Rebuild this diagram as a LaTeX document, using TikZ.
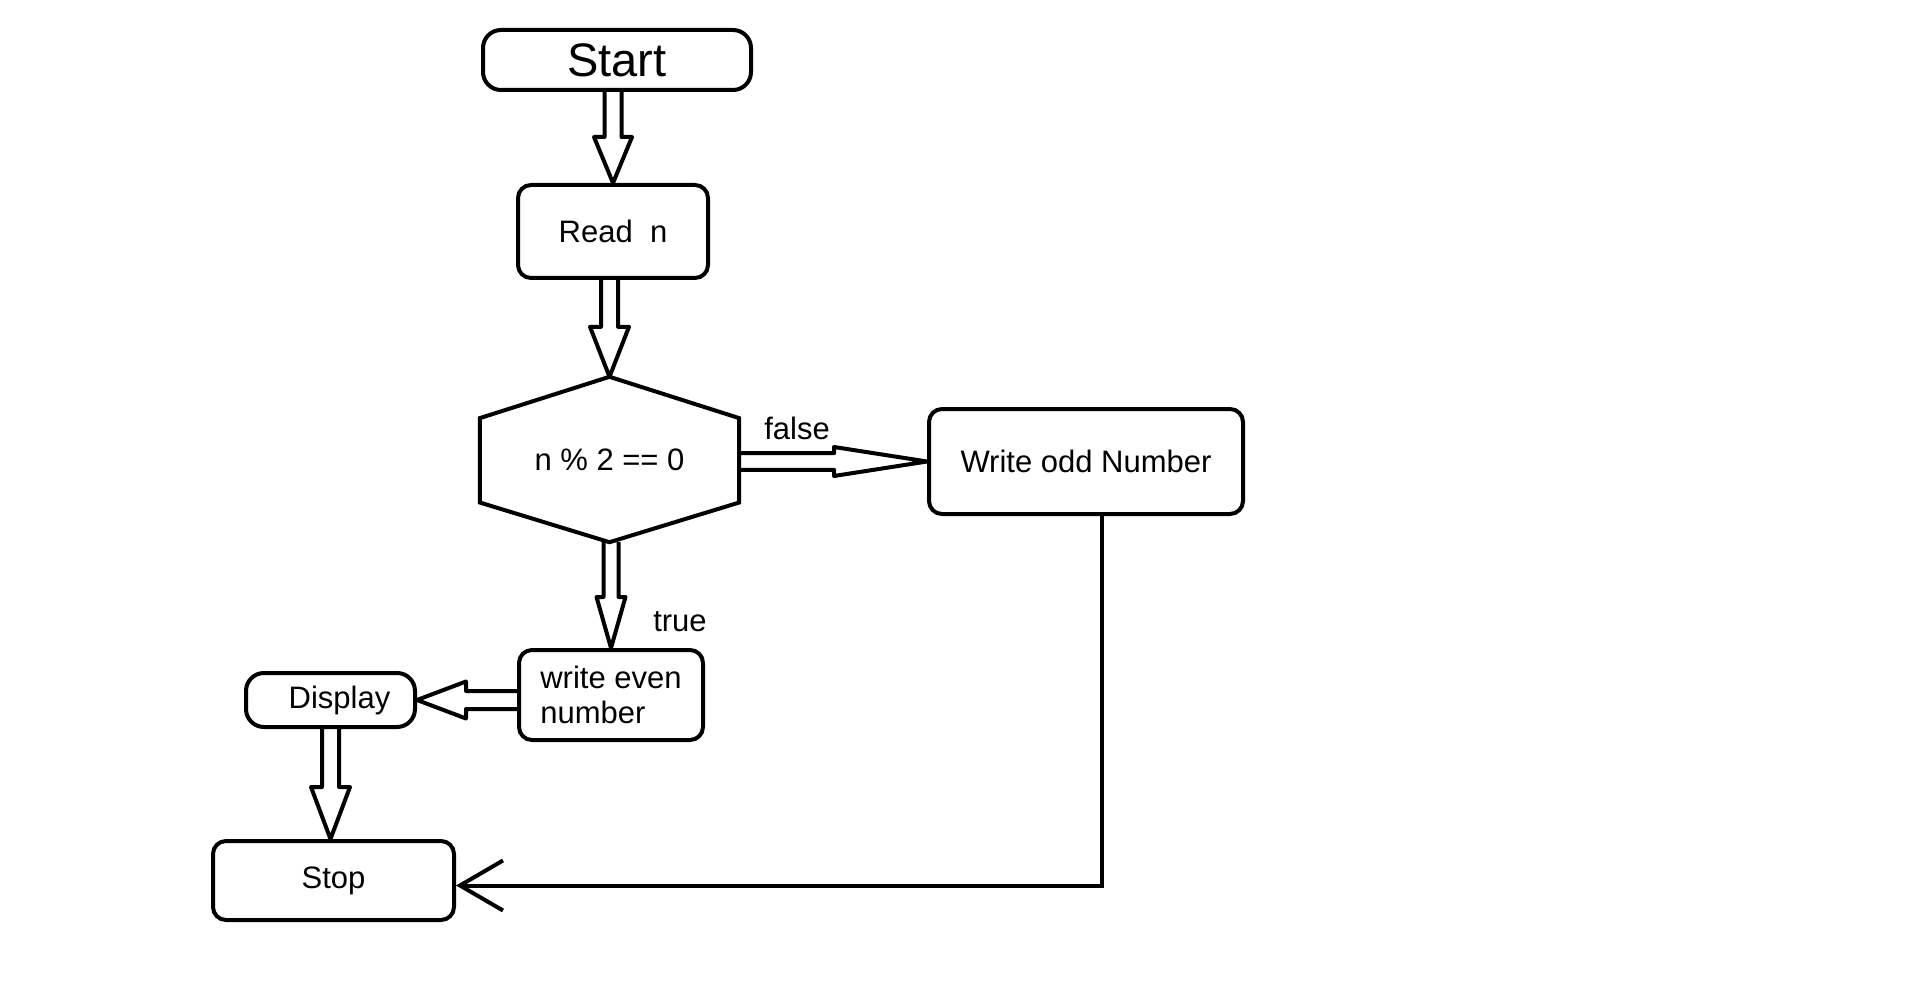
\documentclass[tikz,border=0pt]{standalone}
\usepackage{fontspec}
\setmainfont{Liberation Sans}
\usetikzlibrary{calc,arrows.meta}

\tikzset{
	box/.style={draw, rectangle, rounded corners=13pt, line width=4pt, inner sep=0pt, font=\fontsize{31pt}{35pt}\selectfont},
	terminal/.style={box, rounded corners=18pt},
	tag/.style={inner sep=0pt, font=\fontsize{31pt}{35pt}\selectfont},
	arrshaft/.store in=\arrshaft, arrhead/.store in=\arrhead, arrlen/.store in=\arrlen,
	arrshaft=8.5pt, arrhead=19pt, arrlen=46pt,
	blockarrow/.style={line width=4pt, line join=round, to path={
		($(\tikztostart)!\arrshaft!90:(\tikztotarget)$)
		-- ($($(\tikztotarget)!\arrlen!(\tikztostart)$)!\arrshaft!90:(\tikztotarget)$)
		-- ($($(\tikztotarget)!\arrlen!(\tikztostart)$)!\arrhead!90:(\tikztotarget)$)
		-- (\tikztotarget)
		-- ($($(\tikztotarget)!\arrlen!(\tikztostart)$)!\arrhead!-90:(\tikztotarget)$)
		-- ($($(\tikztotarget)!\arrlen!(\tikztostart)$)!\arrshaft!-90:(\tikztotarget)$)
		-- ($(\tikztostart)!\arrshaft!-90:(\tikztotarget)$)
	}}
}

\begin{document}
\begin{tikzpicture}[x=1pt, y=-1pt]
	\useasboundingbox (0,0) rectangle (1914,981);
	
	\node[terminal, minimum width=268pt, minimum height=60pt, font=\fontsize{47pt}{50pt}\selectfont] (start) at (617,60) {Start};
	\node[box, minimum width=190pt, minimum height=93pt] (read) at (613,231.5) {Read~~n};
	\node[tag, minimum width=259pt, minimum height=165pt] (cond) at (609.5,459.5) {n \% 2 == 0};
	\node[box, minimum width=314pt, minimum height=105pt] (odd) at (1086,461.5) {Write odd Number};
	\node[box, minimum width=184pt, minimum height=90pt, align=left] (even) at (611,695) {write even\\number};
	\node[terminal, minimum width=169pt, minimum height=54pt] (disp) at (330.5,700) {\hspace*{18pt}Display};
	\node[box, minimum width=241pt, minimum height=79pt] (stop) at (333.5,880.5) {Stop};
	
	\node[tag] (lfalse) at (797,428) {false};
	\node[tag] (ltrue) at (680,622) {true};
	
	%hexagon round the test
	\draw[line width=4pt, line join=miter] (cond.north)
		-- ($(cond.north east)!0.25!(cond.south east)$)
		-- ($(cond.north east)!0.76!(cond.south east)$)
		-- (cond.south)
		-- ($(cond.north west)!0.76!(cond.south west)$)
		-- ($(cond.north west)!0.25!(cond.south west)$)
		-- cycle;
	
	\draw[blockarrow] (start.south -| read.north) to (read.north);
	\draw[blockarrow, arrhead=19.5pt, arrlen=50pt] (read.south -| cond.north) to (cond.north);
	\draw[blockarrow, arrshaft=8.3pt, arrhead=14.5pt, arrlen=93pt] (cond.east |- odd.west) to (odd.west);
	\draw[blockarrow, arrshaft=7.5pt, arrhead=14.5pt, arrlen=51pt] (cond.south -| even.north) to (even.north);
	\draw[blockarrow, arrshaft=9pt, arrhead=18.5pt, arrlen=49pt] (even.west |- disp.east) to (disp.east);
	\draw[blockarrow, arrhead=19.5pt, arrlen=52pt] (disp.south) to (disp.south |- stop.north);
	
	\draw[line width=4pt, -{Straight Barb[length=43pt, width=50pt]}] ([xshift=16pt]odd.south) |- ([yshift=-5pt]stop.east);
	
\end{tikzpicture}
\end{document}
